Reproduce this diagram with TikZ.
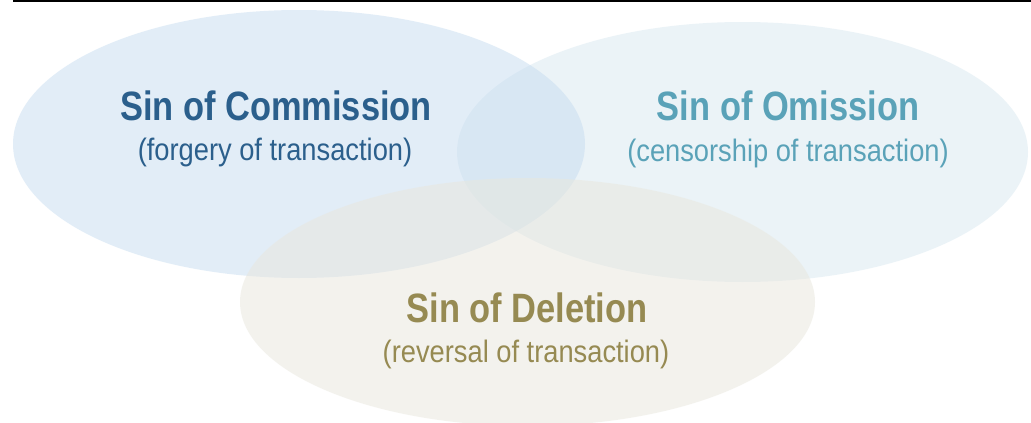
\documentclass[tikz,border=0pt]{standalone}
\usepackage{fontspec}
\setmainfont{Liberation Sans}
\newfontfamily\ttlfont[FakeStretch=0.84]{Liberation Sans}
\newfontfamily\subfont[FakeStretch=0.88]{Liberation Sans}
\usetikzlibrary{shapes.geometric}
\definecolor{cLeft}{RGB}{199,221,241}
\definecolor{cRight}{RGB}{217,233,241}
\definecolor{cBot}{RGB}{233,231,221}
\definecolor{tLeft}{RGB}{43,95,140}
\definecolor{tRight}{RGB}{90,162,184}
\definecolor{tBot}{RGB}{150,138,82}
\tikzset{
  blob/.style={ellipse, draw=none, inner sep=0pt, fill opacity=0.5},
  ttl/.style={anchor=base, inner sep=0pt, font=\ttlfont\bfseries\fontsize{41}{45}\selectfont},
  sub/.style={anchor=base, inner sep=0pt, font=\subfont\fontsize{31}{35}\selectfont}
}
\begin{document}
\begin{tikzpicture}[x=1pt,y=-1pt]
\useasboundingbox (0,0) rectangle (1031,423);
\fill[white] (0,0) rectangle (1031,423);
\node[blob, fill=cRight, minimum width=571pt, minimum height=260pt] (omi) at (742.5,152) {};
\node[blob, fill=cLeft, minimum width=572pt, minimum height=268pt] (com) at (299,144) {};
\node[blob, fill=cBot, minimum width=575pt, minimum height=248pt] (del) at (527.5,302) {};
\draw[line width=2pt] (13,1) -- (1031,1);
\node[ttl, text=tLeft] (comT) at (276,120) {Sin of Commission};
\node[sub, text=tLeft] (comS) at (275,160.5) {(forgery of transaction)};
\node[ttl, text=tRight] (omiT) at (788,120.5) {Sin of Omission};
\node[sub, text=tRight] (omiS) at (788,161) {(censorship of transaction)};
\node[ttl, text=tBot] (delT) at (527,322) {Sin of Deletion};
\node[sub, text=tBot] (delS) at (526,362.5) {(reversal of transaction)};
\end{tikzpicture}
\end{document}
